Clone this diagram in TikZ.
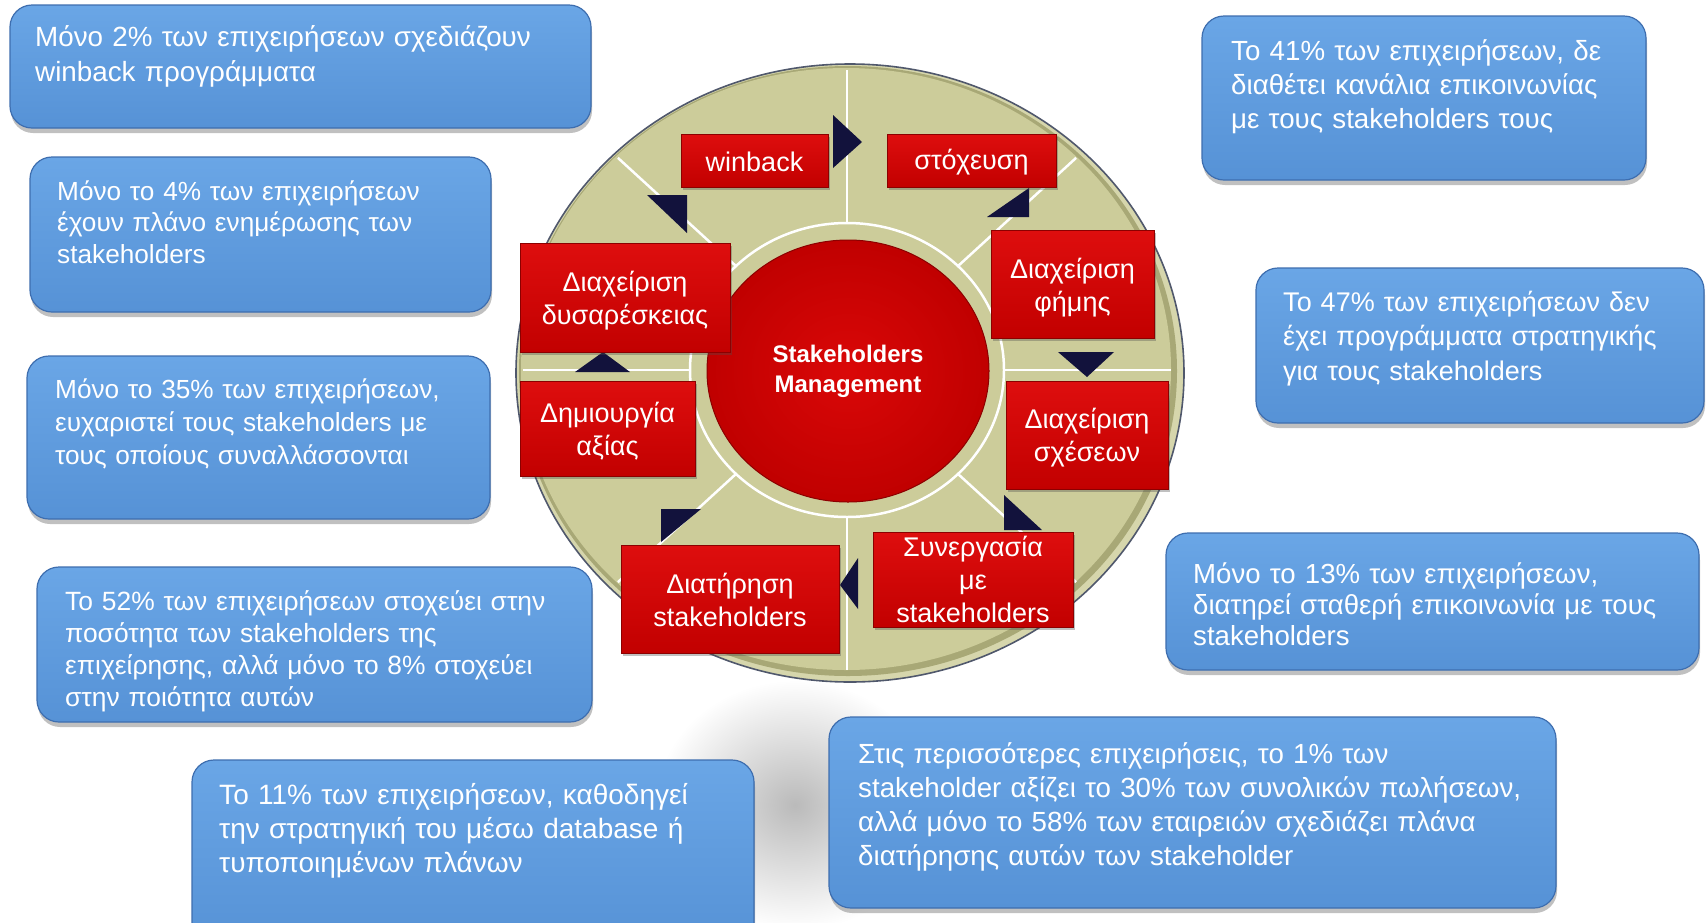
\documentclass[tikz,border=0pt]{standalone}
\usepackage{fontspec}
\setmainfont{Liberation Sans}
\usetikzlibrary{shapes.geometric,shadows}
\definecolor{btop}{RGB}{106,166,230}
\definecolor{bbot}{RGB}{86,146,214}
\definecolor{bdraw}{RGB}{62,110,175}
\definecolor{rtop}{RGB}{222,14,14}
\definecolor{rbot}{RGB}{194,0,0}
\definecolor{rdraw}{RGB}{140,0,0}
\definecolor{hubin}{RGB}{218,8,8}
\definecolor{hubout}{RGB}{192,0,0}
\definecolor{khaki}{RGB}{204,204,154}
\definecolor{rimlight}{RGB}{214,214,172}
\definecolor{rimdark}{RGB}{168,168,118}
\definecolor{diskline}{RGB}{80,88,108}
\definecolor{navy}{RGB}{18,18,60}
\tikzset{
  bluebox/.style={draw=bdraw, line width=1.2pt, rounded corners=22pt, top color=btop, bottom color=bbot, inner sep=0pt,
    drop shadow={shadow xshift=1pt, shadow yshift=-5pt, opacity=0.35, fill=black!70}},
  btext/.style 2 args={anchor=base west, text=white, text width=760pt, align=left, inner sep=0pt, font=\fontsize{#1}{#2}\selectfont},
  redbox/.style={draw=rdraw, line width=0.8pt, top color=rtop, bottom color=rbot, inner sep=0pt,
    drop shadow={shadow xshift=2pt, shadow yshift=-3pt, opacity=0.35, fill=black!70}},
  redtext/.style={text=white, align=center, inner sep=0pt, font=\fontsize{27}{33}\selectfont},
  arrowtri/.style={fill=navy},
  spoke/.style={draw=white, line width=2.5pt},
}
\newcommand\bluenode[5]{\node[bluebox, minimum width={(#4-#2)*1pt}, minimum height={(#5-#3)*1pt}] (#1) at ({(#2+#4)/2},{(#3+#5)/2}) {};}
\newcommand\rednode[7]{\node[redbox, minimum width={(#4-#2)*1pt}, minimum height={(#5-#3)*1pt}] (#1) at ({(#2+#4)/2},{(#3+#5)/2}) {};
  \node[redtext] (#1-t) at ([yshift=-#6pt]#1.center) {#7};}
\begin{document}
\begin{tikzpicture}[x=1pt,y=-1pt]
\useasboundingbox (0,0) rectangle (1706,922);
\fill[white] (0,0) rectangle (1706,922);
% soft shadow under the disk
\shade[inner color=black!27, outer color=white] (795,805) ellipse [x radius=140pt, y radius=125pt];
% disk
\fill[rimlight] (850,373) ellipse [x radius=334pt, y radius=309pt];
\fill[rimdark] (848,371) ellipse [x radius=329pt, y radius=305pt];
\fill[khaki] (846,369) ellipse [x radius=325pt, y radius=301pt];
\draw[diskline, line width=1.6pt] (850,373) ellipse [x radius=334pt, y radius=309pt];
\foreach \a in {0,45,...,315}{
  \draw[spoke] ({847+157*cos(\a)},{370-147*sin(\a)}) -- ({847+324*cos(\a)},{370-300*sin(\a)});
}
\draw[spoke] (847,370) ellipse [x radius=157pt, y radius=147pt];
% hub
\node[ellipse, minimum width=282pt, minimum height=262pt, draw=rdraw, line width=1pt, inner color=hubin, outer color=hubout,
  text=white, align=center, font=\bfseries\fontsize{24}{30}\selectfont] (hub) at (848,371) {Stakeholders\\Management};
% arrow heads
\fill[arrowtri] (833,115) -- (833,168) -- (862,142) -- cycle;
\fill[arrowtri] (1029,188) -- (987,217) -- (1029,217) -- cycle;
\fill[arrowtri] (1058,352) -- (1114,352) -- (1087,377) -- cycle;
\fill[arrowtri] (1004,495) -- (1004,530) -- (1042,530) -- cycle;
\fill[arrowtri] (858,558) -- (858,609) -- (840,585) -- cycle;
\fill[arrowtri] (661,509) -- (701,509) -- (661,542) -- cycle;
\fill[arrowtri] (575,372) -- (630,372) -- (603,352) -- cycle;
\fill[arrowtri] (647,195) -- (687,195) -- (687,233) -- cycle;
% red boxes
\rednode{winback}{681}{134}{828}{187}{1.5}{winback}
\rednode{stoxeusi}{887}{134}{1056}{187}{2}{στόχευση}
\rednode{fimi}{991}{230}{1154}{338}{3.5}{Διαχείριση\\φήμης}
\rednode{sxeseis}{1006}{381}{1168}{489}{3}{Διαχείριση\\σχέσεων}
\rednode{synergasia}{873}{532}{1073}{627}{0}{Συνεργασία\\με\\stakeholders}
\rednode{diatirisi}{621}{545}{839}{653}{0.5}{Διατήρηση\\stakeholders}
\rednode{dimiourgia}{520}{381}{695}{476}{3}{Δημιουργία\\αξίας}
\rednode{dysareskeia}{520}{243}{730}{352}{3}{Διαχείριση\\δυσαρέσκειας}
% blue boxes
\bluenode{bA}{10}{5}{591}{128}
\bluenode{bB}{30}{157}{491}{312}
\bluenode{bC}{27}{356}{490}{519}
\bluenode{bD}{37}{567}{592}{722}
\bluenode{bE}{192}{760}{754}{945}
\bluenode{bF}{1202}{16}{1646}{180}
\bluenode{bG}{1256}{268}{1704}{423}
\bluenode{bH}{1166}{533}{1699}{670}
\bluenode{bI}{829}{717}{1556}{908}
\node[btext={27.8}{35}] (tA) at (35,46) {Μόνο 2\% των επιχειρήσεων σχεδιάζουν\\winback προγράμματα};
\node[btext={26.2}{31.5}] (tB) at (57,200) {Μόνο το 4\% των επιχειρήσεων\\έχουν πλάνο ενημέρωσης των\\stakeholders};
\node[btext={26.2}{33}] (tC) at (55,398) {Μόνο το 35\% των επιχειρήσεων,\\ευχαριστεί τους stakeholders με\\τους οποίους συναλλάσσονται};
\node[btext={26.4}{32}] (tD) at (65,610) {Το 52\% των επιχειρήσεων στοχεύει στην\\ποσότητα των stakeholders της\\επιχείρησης, αλλά μόνο το 8\% στοχεύει\\στην ποιότητα αυτών};
\node[btext={28}{34}] (tE) at (219,804) {Το 11\% των επιχειρήσεων, καθοδηγεί\\την στρατηγική του μέσω database ή\\τυποποιημένων πλάνων};
\node[btext={27.7}{34}] (tF) at (1231,60) {Το 41\% των επιχειρήσεων, δε\\διαθέτει κανάλια επικοινωνίας\\με τους stakeholders τους};
\node[btext={27}{34.5}] (tG) at (1283,311) {Το 47\% των επιχειρήσεων δεν\\έχει προγράμματα στρατηγικής\\για τους stakeholders};
\node[btext={27.6}{31}] (tH) at (1193,583) {Μόνο το 13\% των επιχειρήσεων,\\διατηρεί σταθερή επικοινωνία με τους\\stakeholders};
\node[btext={27.7}{34.3}] (tI) at (858,763) {Στις περισσότερες επιχειρήσεις, το 1\% των\\stakeholder αξίζει το 30\% των συνολικών πωλήσεων,\\αλλά μόνο το 58\% των εταιρειών σχεδιάζει πλάνα\\διατήρησης αυτών των stakeholder};
\end{tikzpicture}
\end{document}
